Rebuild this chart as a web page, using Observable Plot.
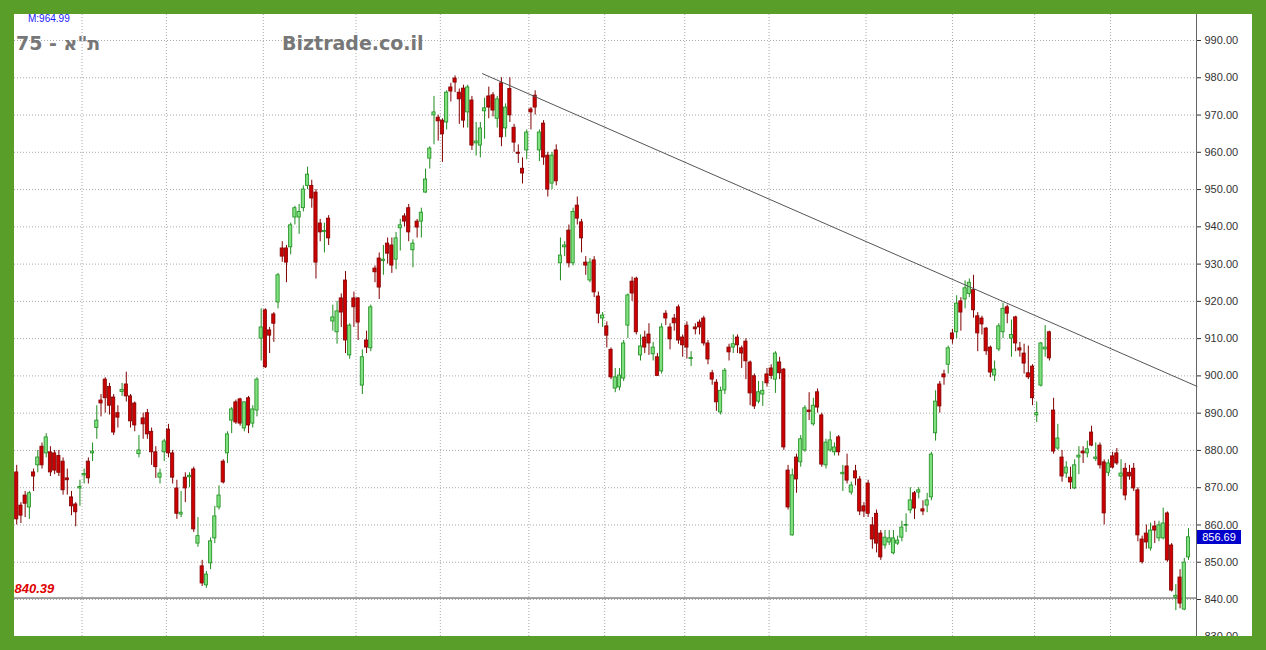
<!DOCTYPE html>
<html><head><meta charset="utf-8">
<script src="https://cdn.jsdelivr.net/npm/d3@7"></script>
<script src="https://cdn.jsdelivr.net/npm/@observablehq/plot@0.6"></script>
<style>
html,body{margin:0;padding:0;}
body{width:1266px;height:650px;background:#5a9e2a;position:relative;overflow:hidden;font-family:"Liberation Sans",Arial,sans-serif;}
#panel{position:absolute;left:14px;top:14px;width:1238px;height:622px;background:#fff;overflow:hidden;}
#chart{position:absolute;left:0;top:0;}
#mlabel{position:absolute;left:14px;top:-1px;font-size:10px;line-height:11px;color:#1a1aff;}
#title{position:absolute;left:2px;top:18px;font-size:19px;font-weight:bold;color:#777;font-family:"DejaVu Sans",sans-serif;}
#site{position:absolute;left:268px;top:18px;font-size:19px;font-weight:bold;color:#777;font-family:"DejaVu Sans",sans-serif;}
#last{position:absolute;left:1183px;width:44px;height:14px;line-height:14px;background:#0000cc;color:#fff;font-size:11px;text-align:center;}
</style></head>
<body>
<div id="panel">
  <div id="chart"></div>
  <div id="mlabel"></div>
  <div id="title"></div>
  <div id="site"></div>
  <div id="last"></div>
</div>
<script>
// ---- data ----
const opens = [862.8,874.1,865.2,867.9,864.7,874.1,876,881,879.2,879.5,879.2,878.5,877,872.5,867.4,865.5,869.8,873.3,877,879.2,886,893.4,899,897,894.2,890,895.7,897.7,894.5,892.6,879,888.6,890,885,879.5,872.7,879.5,885.6,879.2,869.8,862.8,872.7,872.8,874.9,855,848.9,843.8,849.7,856.4,864.7,877,879.2,888,892.9,893.7,885.9,894,887.2,890.7,910,917.6,912.2,916.5,919.7,934.2,934.2,934.5,942.5,942.5,945,951,951,949.2,940.9,938.6,942.2,914.6,911.7,920.8,925.6,905.5,920.8,920.8,897.4,909.5,907.4,928.8,931.5,930.8,935.5,935,931.2,939.6,942.8,945,933.7,941.4,941.4,949.2,958.3,969.9,969.3,968.5,968,977.4,979.8,976,977.1,970.7,973.9,962.4,961.8,971,975,975.3,969,978.5,966.4,977,966.6,959.9,955.6,960.5,971.5,975.2,960.5,967.7,959.1,951.6,960.5,930.2,934.5,939,930.2,945.7,941.2,930.4,925.6,931,921.3,915.4,913.3,907,896.6,896.9,899.3,913.5,925.3,926.1,905.5,910.3,911.1,905.8,905,901.2,916.7,913,915.4,918.4,910.3,913.5,904.5,913,914.3,915.4,908.7,900.7,898.2,890.2,896.1,907.6,907.6,910.3,907.4,909.2,903.6,899.9,893.1,895,900.4,902,899,903.6,901.7,874.6,857.2,878.1,876.8,880,890.7,887,895.6,889.4,876,880,879.5,883.5,873.6,875.7,868.7,874.4,872.2,865,871.1,859.9,863,857.7,854.5,855.3,852.4,855,856.6,859.8,863.9,868.5,868.7,864.2,865.2,867.4,884.6,897.7,900.4,903,911.4,911.7,920,920.5,922,923,916,915.4,912.7,907.6,900.1,907.1,911.7,918.4,910,915.7,907.4,906,900.7,902.5,889.4,897.4,907.1,911.7,890.7,880.5,878.1,873.8,872.7,869.8,878.1,879.7,879.2,884.8,877.7,881.3,876.8,874,878.4,879.2,873,875.1,874,875.1,869.3,856.1,857.7,853.7,859.6,856.4,856.4,863.1,854.5,840.5,845.9,837.3,851.3];
const highs = [869,876,866,869,869,875,880,882,884.5,881,880,880,878,875,869,866,872,875,878,882,892,895,899.5,898,895,892,898,901,895,893,884,890,891,886,881,875,883,887,880,872,869,874,874,875.5,862,850.5,847.5,856.5,865,870.5,877.5,885,891.5,893.5,894,893,894.5,892,899.5,918,918,913,917,927.5,936,935,941,945.5,946,951,956,952.5,950,942,941,943,919,920,922,928,914,922.5,921,907,912,919,929.5,933,935,937,937,938.5,942,943.5,946,936.5,942,945,955.5,961.5,975,970,969,976.5,978.5,980.5,977,978,978,975,968,968,974.5,977.5,976,975,980,973,980,967.5,962,958.5,966,972,976.5,966,968.5,960,960,962,937,936,940.5,945,948,942,932,931.5,932,922.5,917,914.5,907.5,902,902,909.5,922,926.5,926.5,911,912,914,909,906,914,917.5,914,916.5,919,911,914.5,906.5,914,915,916,909.5,901.5,899,897,902,908.5,911,911,908,910,904,900.5,898.5,898.5,902,903,906.5,905,902,876,875,879,884,892,895.5,894,896.5,890,883,885,882,884,876,879,871.5,876,873,866,872,862,864,858.5,858.5,858.5,858.5,857,861,863,870,869,870,866.5,868.5,879.5,896,898.5,901.5,908,912.5,921.5,921,925.5,926,927,917,916,913,908,904,914,919.5,919,915,916,909,908.5,908,903,893,909,913.5,912,894,887,880,877,875.5,877.5,881,881,882.5,886.5,882,882,877.5,877.5,879.5,880.5,877.5,876.5,876,876.5,870,857,860,860.5,861,861,864.5,863.5,855,844,848,851,859];
const lows = [861,860,860.4,862,861.5,869,874,875,878,873,873.5,873,868,868,862.5,859.5,865,871,871,877,883,889,890,889.5,884,886,894.5,893,886,885,878,883,883,876,872.5,871,877,878,871,861.5,862,866,870,858,854,843.5,843,848,855,864,871,876.5,884.5,887,886.5,885,884.5,886,889,904,902,906,909,918,930.5,925,932.5,940.5,938,944,950,945,926,936,933,935,912,908.5,913,906,904.5,913,909.5,895,906,906.5,925,920.5,927,930,927.5,928.5,933.5,940,936,929,937,937,949,955.5,962,963,957.3,966,973.5,976,967.5,966.5,966.5,960.5,959,958.5,963.5,969,969.5,966.5,961.5,964,968,960,957,951.5,958,966,970,957.5,956.5,948,950,951,925.5,932,929,929.5,940.5,933,927,925,921,914,913,907.5,899,895.5,896,898.5,910,920,911,904,906,905.5,904,900,900.5,913.5,907,912,908.5,905,904.5,902.5,911,911,908,903,897.5,890.5,889.5,895,904,906,906,902,899,892,891,892.5,891.8,897,899,895.3,899,880,864,857,868.5,875.5,879.5,888,886.5,890,875.5,875,879.5,878.5,878.5,869,871,868,870.5,862.5,862,862,853.5,852.5,850.5,853.5,854.5,852,854.5,855.5,858,863,861.5,867,862.5,863.3,866.5,882.5,890,897.5,900.5,908.5,910,912,918,921,915.5,906.5,911,905.5,899.5,898.5,906.5,910,914,905,906.5,905,900.5,899,892,887.5,897,905,904,879,880,871.5,872.5,869.5,869.5,873.5,876.5,878,881,877,875,860,873,875,876,869.5,866.5,872,869,855.5,849.5,853.5,853,855,855.5,856,850,842,837,837.5,837,850.5];
const closes = [867.4,861.5,862.5,865.7,868.5,873,878.1,876,883.5,874.1,874.6,874,869.3,872,865,863.4,870.2,873.7,872.5,879.7,888,892.6,894,892,884.8,888.8,896.2,894.5,887.8,886.7,880,887,884.3,879.5,875.5,873.8,882.4,879.2,872.7,863,863.3,869.8,873.2,858.8,857,844.3,846.7,855.6,862.3,867.9,871.4,884.3,891,887.5,887.2,892.9,886.7,891,899,913,902.3,910.8,914,927,932,930.4,940.4,945,944,950,954,947.6,930.4,938.5,938.9,936.9,915.7,917.3,917,909.5,913.5,918.4,914.3,905,907.6,918.4,927.8,923.7,931.2,932.8,929.6,936.9,940.4,941.4,938.5,935.5,939.8,943.8,952.7,961,970.7,968.3,964.8,976,976.3,978.7,974.2,968.5,977.4,961.8,962.9,966.4,971.8,972,971.2,974.2,964,972,969.9,962.6,959.6,954.3,965.3,970.7,972,965.3,958.6,950,959.1,952.2,932.3,935,930.2,944,942.2,936.9,929.6,930.4,922.4,916.7,916.2,910.8,899.6,899.6,900.1,908.7,921.6,922.1,911.7,907.9,907.6,908.7,907.6,900,913,915.4,909.8,914.1,909.5,908.2,907.6,904.8,912.5,913,908.7,904.4,899,892.9,896,901.4,906.3,908.5,908.2,906,903.9,895.3,891.8,895.6,896,898,900,906,900.7,880.8,864.7,873.3,872.2,883,891.3,890.3,892,891.5,876.2,882.1,882.7,880.8,879.5,874,871.9,870.6,872.5,863.6,863.6,863,856.1,855,851.3,856.6,856.4,856.4,855.8,859.3,860,866.6,864.4,869.3,863.6,866.6,878.9,893.1,891.8,899.6,907.4,909.8,919.4,917,923.5,925,917.6,911.4,913.8,906.6,900.9,901.7,913.3,918,916.7,911,908.7,906.8,903.3,899.6,894,890,908.7,907.6,904.7,879.7,883.2,873,875.4,871.4,876,878.6,879.2,880.3,881.3,878.1,876,863.1,876.5,875.4,876.5,873.8,867.9,873,869.8,857.2,850,855.3,858.5,858.5,859.9,860.4,850.5,842.4,841,838.9,849.9,856.69];
const yTicks = [830,840,850,860,870,880,890,900,910,920,930,940,950,960,970,980,990];
const monthBreaks = [16.5,36.5,59.5,81.5,101.5,122.5,140.5,159.5,179.5,202.5,223,242.5,260.5];
const trendIdx = [111.5, 281];
const trendVal = [981.1, 897.2];
const refLevel = 840.39;
const maxLabel = "M:964.99";
const titleText = "75 - ת\"א";
const siteText = "Biztrade.co.il";

// ---- build ----
const rows = opens.map((o,i)=>({i, open:o, high:highs[i], low:lows[i], close:closes[i], up: closes[i] >= opens[i]}));
const trend = trendIdx.map((x,k)=>({i:x, v:trendVal[k]}));
const last = closes[closes.length-1];

const W = 1238, H = 622, MR = 56;
const pxPer = 4.215;
const xDomain = [2/pxPer, 2/pxPer + (W-MR)/pxPer];
const yPer = 3.7267;
const yDomain = [990 - (H-26)/yPer, 990 + 26/yPer];

const upFill = "#7fe07f", upStroke = "#1e8c1e", dnFill = "#cc0000", dnStroke = "#800000";

const chart = Plot.plot({
  width: W, height: H,
  marginLeft: 0, marginRight: MR, marginTop: 0, marginBottom: 0,
  style: {background: "transparent", fontFamily: "'Liberation Sans', Arial, sans-serif", overflow: "visible"},
  x: {type: "linear", domain: xDomain, axis: null},
  y: {domain: yDomain, axis: null},
  marks: [
    Plot.ruleY(yTicks, {stroke: "#aaa", strokeDasharray: "1,2", strokeWidth: 1}),
    Plot.ruleX(monthBreaks, {stroke: "#aaa", strokeDasharray: "1,2", strokeWidth: 1}),
    Plot.ruleX([xDomain[1]], {stroke: "#666", strokeWidth: 1}),
    Plot.ruleY([refLevel], {stroke: "#444", strokeWidth: 1}),
    Plot.text([refLevel], {y: d=>d, frameAnchor: "left", textAnchor: "start", dx: 0, dy: -9, text: d=>d.toFixed(2), fill: "#e00000", fontStyle: "italic", fontWeight: "bold", fontSize: 13}),
    Plot.ruleX(rows, {x: "i", y1: "low", y2: "high", stroke: d=> d.up ? upStroke : dnStroke, strokeWidth: 1}),
    Plot.rect(rows, {x1: d=>d.i-0.38, x2: d=>d.i+0.38, y1: "open", y2: "close", fill: d=> d.up ? upFill : dnFill, stroke: d=> d.up ? upStroke : dnStroke, strokeWidth: 0.8}),
    Plot.line(trend, {x: "i", y: "v", stroke: "#555", strokeWidth: 1}),
    Plot.axisY(yTicks, {anchor: "right", tickFormat: d=>d.toFixed(2), tickSize: 4, tickPadding: 4, fontSize: 11, color: "#333"})
  ]
});
document.getElementById("chart").appendChild(chart);
document.getElementById("mlabel").textContent = maxLabel;
document.getElementById("title").textContent = titleText;
document.getElementById("site").textContent = siteText;
const lastEl = document.getElementById("last");
lastEl.textContent = last.toFixed(2);
lastEl.style.top = (chart.scale("y").apply(last) - 7) + "px";
</script>
</body></html>
